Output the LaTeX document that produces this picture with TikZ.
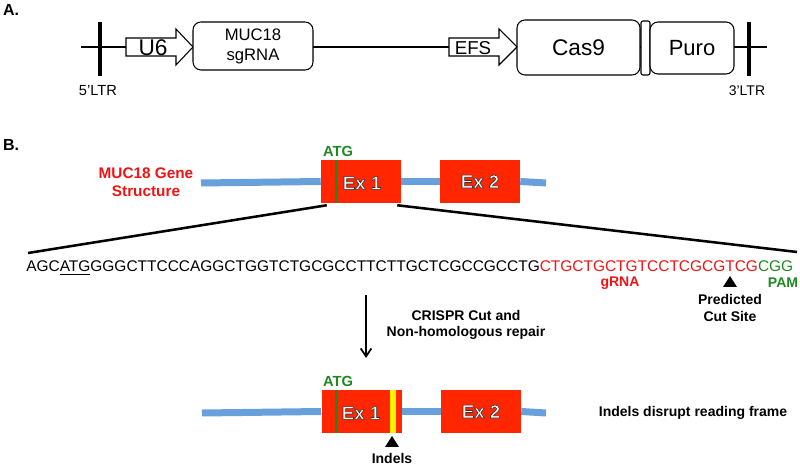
\documentclass[tikz,border=0pt]{standalone}
\usepackage{fontspec}
\setmainfont{Liberation Sans}
\usetikzlibrary{arrows.meta}
\definecolor{exonred}{RGB}{255,38,0}
\definecolor{intronblue}{RGB}{104,160,220}
\definecolor{atggreen}{RGB}{32,136,32}
\definecolor{grnared}{RGB}{238,20,20}
\definecolor{indelyellow}{RGB}{255,242,0}

% white exon names with a dark rim (text render mode 2)
\newcommand{\exname}[1]{%
  {\color{white}\special{pdf:code 0.97 g 0.2 G 0.45 w 2 Tr}#1\special{pdf:code 0 Tr}}}

\begin{document}
\begin{tikzpicture}[x=0.75pt,y=-0.75pt,line join=miter]
  \tikzstyle{cassette}=[draw,line width=0.8pt,fill=white,rounded corners=6pt,
                        align=center,inner sep=0pt]
  \tikzstyle{promoter}=[draw,line width=0.8pt,fill=white]
  \tikzstyle{ltr}=[line width=3pt]
  \tikzstyle{small}=[font=\fontsize{11}{13}\selectfont,inner sep=0pt]
  \tikzstyle{exon}=[fill=exonred,minimum width=60pt,minimum height=32.25pt,
                    inner sep=0pt,font=\bfseries\fontsize{14}{16}\selectfont]
  \tikzstyle{intron}=[intronblue,line width=5.25pt]
  \tikzstyle{atgline}=[atggreen,line width=2.2pt]
  \tikzstyle{tag}=[font=\bfseries\fontsize{10.5}{12.5}\selectfont,inner sep=0pt,align=center]
  \tikzstyle{panel}=[font=\bfseries\fontsize{12}{14}\selectfont,inner sep=0pt]

  \useasboundingbox (0,0) rectangle (800,466);

  % A.
  \node[panel] (pa) at (11,10) {A.};
  \coordinate (bbL) at (81,47);
  \coordinate (bbR) at (767,47);
  \draw[line width=0.9pt] (bbL) -- (bbR);
  \draw[ltr] (100,22) -- (100,76);
  \draw[ltr] (749,22) -- (749,76);
  \node[small] (ltr5) at (98,91) {5'LTR};
  \node[small,font=\fontsize{10.5}{12}\selectfont] (ltr3) at (747,91) {3'LTR};

  \draw[promoter] (126,38) -- (176,38) -- (176,29) -- (193,47) -- (176,65)
                  -- (176,56) -- (126,56) -- cycle;
  \node[inner sep=0pt,font=\fontsize{17}{19}\selectfont] (u6) at (153,48) {U6};
  \draw[promoter] (449,38) -- (499,38) -- (499,29) -- (517,47) -- (499,65)
                  -- (499,56) -- (449,56) -- cycle;
  \node[inner sep=0pt,font=\fontsize{14}{16}\selectfont] (efs) at (473,48) {EFS};

  \node[cassette,minimum width=90pt,minimum height=36pt,
        font=\fontsize{12.5}{15}\selectfont] (sgrna) at (253,46) {MUC18\\sgRNA};
  \node[cassette,minimum width=92.25pt,minimum height=41.25pt,
        font=\fontsize{17}{19}\selectfont] (cas9) at (578.5,47.5) {Cas9};
  \node[cassette,rounded corners=1.5pt,minimum width=6.75pt,
        minimum height=40.5pt] (linker) at (645.5,48) {};
  \node[cassette,minimum width=63pt,minimum height=39pt,
        font=\fontsize{16.5}{19}\selectfont] (puro) at (692,48) {Puro};

  % B.
  \node[panel] (pb) at (11,145) {B.};
  \node[tag,grnared,font=\bfseries\fontsize{11.5}{13.5}\selectfont] (gene)
        at (146,182) {MUC18 Gene\\Structure};

  \coordinate (geneL) at (201,183);
  \coordinate (geneR) at (546,183);
  \node[exon] (ex1a) at (361,181.5) {};
  \node[exon] (ex2a) at (480,181.5) {\exname{Ex 2}};
  \draw[intron] (geneL) -- (ex1a.west);
  \draw[intron] (ex1a.east) -- (ex2a.west);
  \draw[intron] (ex2a.east) -- (geneR);
  \draw[atgline] ([xshift=12pt]ex1a.north west) -- ([xshift=12pt]ex1a.south west);
  \node[font=\bfseries\fontsize{14}{16}\selectfont,inner sep=0pt] (ex1name) at (362,183) {\exname{Ex 1}};
  \node[tag,atggreen,font=\bfseries\fontsize{11}{13}\selectfont] (atga) at (338,151) {ATG};

  \coordinate (seqL) at (28,253);
  \coordinate (seqR) at (797,252);
  \draw[line width=1.9pt] ([xshift=4.5pt,yshift=-1.5pt]ex1a.south west) -- (seqL);
  \draw[line width=1.9pt] ([xshift=-3pt,yshift=-1.5pt]ex1a.south east) -- (seqR);

  \node[anchor=west,inner sep=0pt,font=\fontsize{11.6}{14}\selectfont] (seq) at (26,268)
    {AGC\underline{ATG}GGGCTTCCCAGGCTGGTCTGCGCCTTCTTGCTCGCCGCCTG\textcolor{grnared}{CTGCTGCTGTCCTCGCGTCG}\textcolor{atggreen}{CGG}};
  \node[tag,grnared] (grna) at (620,283) {gRNA};
  \node[tag,atggreen] (pam) at (783,283) {PAM};
  \fill (730,276) -- (737,287) -- (723,287) -- cycle;
  \node[tag] (cutsite) at (730,308) {Predicted\\Cut Site};

  \coordinate (repairtop) at (366,295);
  \coordinate (repairbot) at (366,358);
  \draw[line width=1.3pt,-{Straight Barb[length=6pt,width=8pt]}] (repairtop) -- (repairbot);
  \node[tag] (repair) at (466,325) {CRISPR Cut and\\Non-homologous repair};

  \coordinate (mutL) at (202,413);
  \coordinate (mutR) at (546,413);
  \node[exon] (ex1b) at (361.5,411.5) {};
  \node[exon] (ex2b) at (481,411.5) {\exname{Ex 2}};
  \draw[intron] (mutL) -- (ex1b.west);
  \draw[intron] (ex1b.east) -- (ex2b.west);
  \draw[intron] (ex2b.east) -- (mutR);
  \draw[atgline] ([xshift=11.25pt]ex1b.north west) -- ([xshift=11.25pt]ex1b.south west);
  \fill[indelyellow] (390,390) rectangle (396,433);
  \node[font=\bfseries\fontsize{14}{16}\selectfont,inner sep=0pt] (ex1name2) at (361,413) {\exname{Ex 1}};
  \node[tag,atggreen,font=\bfseries\fontsize{11}{13}\selectfont] (atgb) at (338,381) {ATG};
  \fill (392,436) -- (399,447) -- (385,447) -- cycle;
  \node[tag] (indels) at (392,458) {Indels};
  \node[tag] (frame) at (693,413) {Indels disrupt reading frame};
\end{tikzpicture}
\end{document}
